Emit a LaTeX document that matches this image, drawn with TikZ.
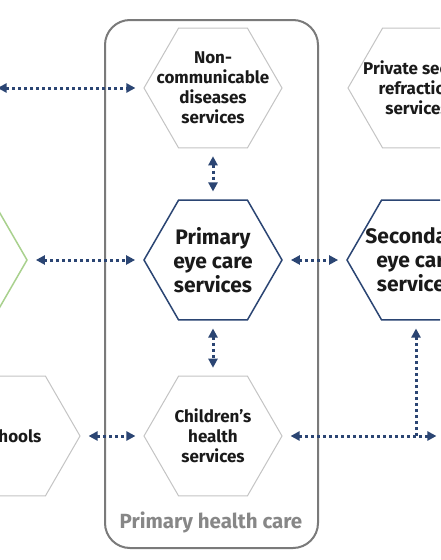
\documentclass[tikz,border=0pt]{standalone}
\usepackage{fontspec}
\setmainfont{Fira Sans}
\usetikzlibrary{shapes.geometric,arrows.meta}
\definecolor{navy}{HTML}{2B4573}
\definecolor{hexgrey}{HTML}{C4C4C4}
\definecolor{boxgrey}{HTML}{7A7A7A}
\definecolor{ink}{HTML}{1A1A1A}
\definecolor{leafgreen}{HTML}{A9D18E}
\begin{document}
\begin{tikzpicture}[x=1pt,y=-1pt,
  hexa/.style={regular polygon, regular polygon sides=6, minimum size=138pt, inner sep=0pt, draw=hexgrey, line width=1pt},
  keyhexa/.style={hexa, draw=navy, line width=1.5pt},
  small/.style={font=\fontsize{17}{20}\selectfont\bfseries, text=ink, align=center},
  big/.style={font=\fontsize{21}{24}\selectfont\bfseries, text=ink, align=center},
  link/.style={{Triangle[length=9pt,width=9pt]}-{Triangle[length=9pt,width=9pt]}, navy, line width=3pt, dash pattern=on 3pt off 3pt, shorten <=8pt, shorten >=8pt}]
\useasboundingbox (0,0) rectangle (440,560);
\clip (0,0) rectangle (440,560);
\fill[white] (0,0) rectangle (440,560);
% primary health care frame
\draw[boxgrey, line width=2pt, rounded corners=25pt] (105,20) rectangle (318,548);
\node[text=boxgrey!90, font=\fontsize{20.5}{24}\selectfont\bfseries] (phc) at (211,522) {Primary health care};
% hexagons
\node[hexa, label={[small]center:Non-\\communicable\\diseases\\services}] (ncd) at (213,88) {};
\node[keyhexa, label={[big]center:Primary\\eye care\\services}] (pec) at (213,260) {};
\node[hexa, label={[small]center:Children’s\\health\\services}] (child) at (213,436) {};
\node[hexa, label={[small]center:Private sector\\refraction\\services}] (private) at (417,88) {};
\node[keyhexa, label={[big]center:Secondary\\eye care\\services}] (second) at (416,260) {};
\node[hexa] (outer) at (-80,88) {};
\node[hexa, draw=leafgreen, line width=1.5pt] (green) at (-42,260) {};
\node[hexa, label={[small]center:Schools}] (school) at (11,436) {};
\node[hexa] (farright) at (514,436) {};
\coordinate (branch) at (second.south |- child.east);
% links
\draw[link] (outer) -- (ncd);
\draw[link] (ncd) -- (pec);
\draw[link] (green) -- (pec);
\draw[link] (pec) -- (second);
\draw[link] (pec) -- (child);
\draw[link] (school) -- (child);
\draw[link] (child) -- (farright);
\draw[link, -{Triangle[length=9pt,width=9pt]}, shorten <=0pt] (branch) -- (second);
\end{tikzpicture}
\end{document}
